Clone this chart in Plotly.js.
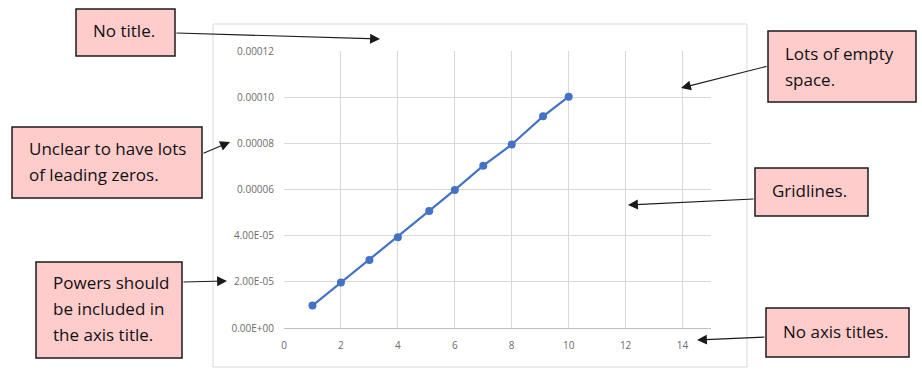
<!DOCTYPE html>
<html>
<head>
<meta charset="utf-8">
<script src="https://cdn.plot.ly/plotly-3.0.1.min.js"></script>
<style>html,body{margin:0;padding:0;background:#fff;}#chart{width:922px;height:378px;}</style>
</head>
<body>
<div id="chart"></div>
<script>
// Data
var xValues = [1, 2, 3, 4, 5.1, 6, 7, 8, 9.1, 10];
var yValues = [0.0000097, 0.0000197, 0.0000295, 0.0000393, 0.0000507, 0.0000598, 0.0000703, 0.0000795, 0.0000917, 0.0001002];
var yTickVals = [0, 0.00002, 0.00004, 0.00006, 0.00008, 0.00010, 0.00012];
var yTickText = ['0.00E+00', '2.00E-05', '4.00E-05', '0.00006', '0.00008', '0.00010', '0.00012'];
var xTickVals = [0, 2, 4, 6, 8, 10, 12, 14];
var xTickText = ['0', '2', '4', '6', '8', '10', '12', '14'];
var notes = [
  {lines: ['No title.'], box: [76, 9, 175, 56], lineY: [30], tail: [175, 33], tip: [380, 39]},
  {lines: ['Unclear to have lots', 'of leading zeros.'], box: [12, 127, 202, 198], lineY: [148.5, 174], tail: [202, 154], tip: [230, 142]},
  {lines: ['Powers should', 'be included in', 'the axis title.'], box: [36, 262, 182, 358], lineY: [282, 308, 334], tail: [182, 282], tip: [227, 281]},
  {lines: ['Lots of empty', 'space.'], box: [768, 31, 916, 102], lineY: [53.5, 79.5], tail: [768, 66], tip: [681, 88]},
  {lines: ['Gridlines.'], box: [755, 168, 868, 216], lineY: [190], tail: [755, 199], tip: [628, 205]},
  {lines: ['No axis titles.'], box: [766, 308, 909, 357], lineY: [331], tail: [766, 337], tip: [697, 340]}
];

var M = {l: 284, r: 211, t: 51, b: 50};
var W = 922, H = 378;
var pw = W - M.l - M.r, ph = H - M.t - M.b;
function px(x) { return (x - M.l) / pw; }
function py(y) { return (H - M.b - y) / ph; }

var shapes = [{
  type: 'rect', xref: 'paper', yref: 'paper', layer: 'below',
  x0: px(213), x1: px(747), y0: py(24), y1: py(367),
  line: {color: '#d9d9d9', width: 1}, fillcolor: 'rgba(0,0,0,0)'
}];
var annotations = [];
var noteFont = {family: '"Open Sans", "Noto Sans", sans-serif', size: 17, color: '#111111'};
notes.forEach(function (n) {
  shapes.push({
    type: 'rect', xref: 'paper', yref: 'paper', layer: 'above',
    x0: px(n.box[0]), x1: px(n.box[2]), y0: py(n.box[1]), y1: py(n.box[3]),
    line: {color: '#1a1a1a', width: 1.5}, fillcolor: '#ffcccc'
  });
  n.lines.forEach(function (t, i) {
    annotations.push({
      xref: 'paper', yref: 'paper', x: px(n.box[0] + 15), y: py(n.lineY[i]),
      xanchor: 'left', yanchor: 'middle', text: t, showarrow: false, font: noteFont
    });
  });
  annotations.push({
    xref: 'paper', yref: 'paper', x: px(n.tip[0]), y: py(n.tip[1]),
    text: '', showarrow: true, arrowhead: 2, arrowsize: 1.8, arrowwidth: 1.1,
    arrowcolor: '#1a1a1a', ax: n.tail[0] - n.tip[0], ay: n.tail[1] - n.tip[1],
    font: {size: 1}
  });
});

var trace = {
  x: xValues, y: yValues, type: 'scatter', mode: 'lines+markers',
  line: {color: '#4472C4', width: 2.2},
  marker: {color: '#4472C4', size: 8},
  cliponaxis: false, hoverinfo: 'none'
};

var tickFont = {family: '"Open Sans", "Noto Sans", sans-serif', size: 10, color: '#6b6b6b'};
var layout = {
  width: W, height: H, margin: M,
  paper_bgcolor: '#ffffff', plot_bgcolor: '#ffffff',
  showlegend: false,
  xaxis: {
    range: [0, 15], tickvals: xTickVals, ticktext: xTickText,
    showgrid: true, gridcolor: '#d9d9d9', gridwidth: 1,
    zeroline: false, showline: true, linecolor: '#bfbfbf', linewidth: 1,
    ticks: '', tickfont: tickFont, ticklabelstandoff: 8, fixedrange: true
  },
  yaxis: {
    range: [0, 0.00012], tickvals: yTickVals, ticktext: yTickText,
    showgrid: true, gridcolor: '#d9d9d9', gridwidth: 1,
    zeroline: false, showline: false,
    ticks: '', tickfont: tickFont, ticklabelstandoff: 9, fixedrange: true
  },
  shapes: shapes,
  annotations: annotations
};

Plotly.newPlot('chart', [trace], layout, {displayModeBar: false, staticPlot: true});
</script>
</body>
</html>
